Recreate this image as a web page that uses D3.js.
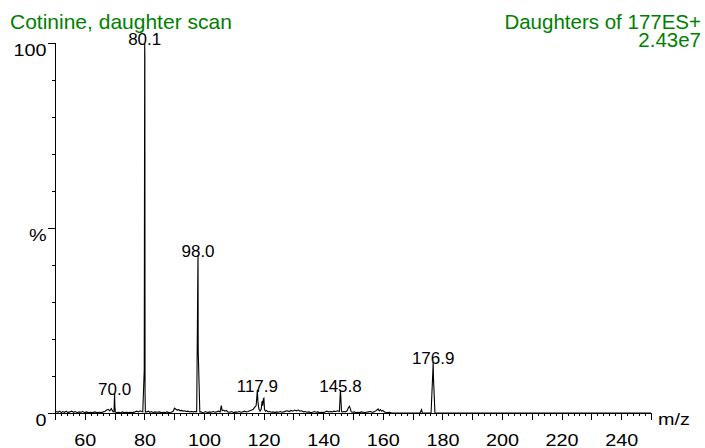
<!DOCTYPE html>
<html><head><meta charset="utf-8">
<script src="https://cdn.jsdelivr.net/npm/d3@7"></script>
<style>html,body{margin:0;padding:0;background:#fff;}svg{display:block;}</style>
</head><body>
<svg id="chart" width="705" height="448"></svg>
<script>
const traceMz = [50.0,50.5,51.0,51.6,52.1,52.6,53.2,53.8,54.3,55.0,55.6,56.2,56.8,57.5,58.0,58.7,59.3,60.0,60.6,61.2,62.0,62.7,63.4,64.0,64.8,65.5,66.2,66.8,67.4,67.9,68.4,68.9,69.4,69.8,69.92,70.0,70.08,70.25,70.8,71.5,72.0,72.6,73.2,74.0,74.7,75.3,76.0,76.8,77.5,78.0,78.6,79.0,79.45,79.95,80.1,80.15,80.22,80.32,80.8,81.3,81.8,82.4,83.0,83.6,84.2,85.0,85.7,86.3,87.0,87.6,88.2,89.0,89.6,90.1,90.6,91.0,91.5,92.0,92.5,93.0,93.5,94.0,94.6,95.2,95.8,96.4,97.0,97.55,97.95,98.0,98.05,98.6,99.0,99.5,100.0,100.6,101.2,101.8,102.4,103.0,103.6,104.2,104.8,105.4,105.8,106.1,106.6,107.0,107.5,108.0,108.7,109.3,110.0,110.6,111.2,111.8,112.4,113.0,113.6,114.2,114.8,115.4,116.0,116.5,117.0,117.5,117.75,117.9,118.1,118.4,118.8,119.2,119.5,119.7,119.9,120.1,120.3,120.6,121.0,121.5,122.0,122.6,123.2,123.8,124.4,125.0,125.6,126.2,126.8,127.4,128.0,128.6,129.2,129.8,130.4,131.0,131.6,132.2,132.8,133.4,134.0,134.6,135.2,135.8,136.4,137.0,137.6,138.2,138.8,139.4,140.0,140.6,141.2,141.8,142.4,143.0,143.6,144.2,144.8,145.45,145.75,145.8,145.9,146.15,146.6,147.0,147.5,148.0,148.5,148.8,149.1,149.4,149.9,150.5,151.0,151.6,152.2,152.8,153.4,154.0,154.6,155.2,155.8,156.4,157.0,157.5,158.0,158.4,158.8,159.2,159.6,160.0,160.5,161.0,161.6,162.2,163.0,172.5,173.0,173.3,176.2,176.75,176.85,176.9,177.0,177.5,250.0];
const tracePct = [0.2,0.4,0.2,0.5,0.1,0.4,0.2,0.5,0.1,0.3,0.5,0.2,0.4,0.1,0.3,0.2,0.4,0.1,0.3,0.1,0.2,0.1,0.3,0.1,0.2,0.1,0.3,0.5,0.8,1.0,0.6,1.2,0.4,0.3,3.5,5.4,2.0,0.3,0.1,0.2,0.0,0.3,0.1,0.2,0.1,0.2,0.1,0.3,0.5,0.3,0.6,0.4,0.3,11.6,100,97,5.5,0.3,0.3,0.5,0.2,0.4,0.1,0.3,0.2,0.3,0.1,0.2,0.1,0.3,0.1,0.2,0.4,1.3,1.0,0.8,0.9,0.6,0.7,0.5,0.6,0.4,0.5,0.3,0.4,0.3,0.4,0.3,40.0,42.7,17.0,0.3,0.3,0.1,0.2,0.4,0.1,0.3,0.2,0.4,0.2,0.3,0.5,0.3,2.0,0.6,0.8,0.5,0.7,0.3,0.2,0.4,0.1,0.3,0.2,0.4,0.2,0.3,0.5,0.3,0.4,0.6,0.8,1.0,1.5,2.0,4.5,6.2,3.0,1.2,0.5,1.0,3.2,2.0,3.8,4.0,1.0,0.5,0.7,0.3,0.4,0.2,0.3,0.1,0.3,0.2,0.4,0.2,0.3,0.5,0.6,0.4,0.7,0.5,0.8,0.6,0.8,0.5,0.6,0.3,0.4,0.2,0.3,0.1,0.2,0.4,0.2,0.3,0.1,0.2,0.1,0.3,0.5,0.3,0.4,0.3,0.5,0.4,0.6,0.4,5.8,6.2,4.5,0.4,0.3,0.4,0.3,0.6,1.5,1.8,1.2,0.3,0.2,0.3,0.1,0.2,0.1,0.3,0.2,0.1,0.2,0.3,0.4,0.2,0.3,0.5,0.8,1.1,0.6,0.9,0.5,0.7,0.3,0.2,0.1,0.2,0.0,0.0,0.9,0.0,0.0,10.5,12.5,13.8,9.5,0.0,0.0];

const peakMz = [70.0, 80.1, 98.0, 117.9, 145.8, 176.9];
const peakPct = [5.4, 100, 42.7, 6.2, 6.2, 13.8];
const peakLabels = ["70.0", "80.1", "98.0", "117.9", "145.8", "176.9"];

const xLabelTicks = [60, 80, 100, 120, 140, 160, 180, 200, 220, 240];
const yLabelTicks = [0, 50, 100];
const yLabelText = ["0", "%", "100"];

const titleLeft = "Cotinine, daughter scan";
const titleRight = "Daughters of 177ES+";
const intensityText = "2.43e7";
const xAxisTitle = "m/z";

const svg = d3.select("#chart");
const green = "#008000";
const font = "'Liberation Sans', Arial, sans-serif";
const stretch = 1.165;

const x = d3.scaleLinear().domain([50, 250]).range([55, 651]);
const y = d3.scaleLinear().domain([0, 100]).range([413, 43]);

svg.append("rect").attr("width", 705).attr("height", 448).attr("fill", "#fff");

// titles
svg.append("text").attr("x", 10).attr("y", 28.5).attr("fill", green)
  .style("font-family", font).style("font-size", "21px").text(titleLeft);
svg.append("text").attr("x", 701).attr("y", 28.5).attr("fill", green).attr("text-anchor", "end")
  .style("font-family", font).style("font-size", "20.5px").text(titleRight);
svg.append("text").attr("x", 701).attr("y", 46.5).attr("fill", green).attr("text-anchor", "end")
  .style("font-family", font).style("font-size", "20.5px").text(intensityText);

// x axis
const xg = svg.append("g").attr("transform", `translate(0,${y(0)})`);
const minorTicks = d3.range(50, 251, 2);
const tenTicks = d3.range(50, 251, 10);
xg.append("g").call(d3.axisBottom(x).tickValues(minorTicks).tickSize(3).tickFormat(""))
  .call(g => g.select(".domain").remove());
xg.append("g").call(d3.axisBottom(x).tickValues(tenTicks).tickSize(7).tickFormat(""))
  .call(g => g.select(".domain").remove());
xg.append("g").call(d3.axisBottom(x).tickValues(xLabelTicks).tickSize(7).tickPadding(13.5).tickFormat(d3.format("d")))
  .call(g => g.select(".domain").attr("d", `M${x(50)},0.5H${x(250)}`))
  .call(g => g.selectAll("text").attr("transform", `scale(${stretch},1)`)
     .style("font-family", font).style("font-size", "17px").attr("fill", "#000"));
xg.selectAll("line,path").attr("stroke", "#000").attr("shape-rendering", "crispEdges");

// y axis
const yg = svg.append("g").attr("transform", `translate(${x(50)},0)`);
yg.append("g").call(d3.axisLeft(y).tickValues(d3.range(0, 101, 10)).tickSize(3).tickFormat(""))
  .call(g => g.select(".domain").remove());
yg.append("g").call(d3.axisLeft(y).tickValues(yLabelTicks).tickSize(7).tickPadding(1.5)
    .tickFormat((d, i) => yLabelText[i]))
  .call(g => g.select(".domain").attr("d", `M0.5,${y(100)}V${y(0)}`))
  .call(g => g.selectAll("text").attr("x", 0).attr("dy", "0.72em")
     .attr("transform", `translate(-8.5,0) scale(${stretch},1)`)
     .style("font-family", font).style("font-size", "17px").attr("fill", "#000"));
yg.selectAll("line,path").attr("stroke", "#000").attr("shape-rendering", "crispEdges");

// axis title
svg.append("text").attr("x", 658).attr("y", 425.5)
  .attr("transform", `translate(658,0) scale(${stretch},1) translate(-658,0)`)
  .style("font-family", font).style("font-size", "17px").attr("fill", "#000").text(xAxisTitle);

// spectrum trace
const pts = traceMz.map((m, i) => [m, tracePct[i]]);
svg.append("path").datum(pts)
  .attr("fill", "none").attr("stroke", "#000").attr("stroke-width", 1.1)
  .attr("d", d3.line().x(d => x(d[0])).y(d => y(d[1])));

// peak labels
svg.append("g").selectAll("text").data(peakMz).join("text")
  .attr("x", d => x(d)).attr("y", (d, i) => y(peakPct[i]) + 2)
  .attr("text-anchor", "middle")
  .style("font-family", font).style("font-size", "17px").attr("fill", "#000")
  .text((d, i) => peakLabels[i]);
</script>
</body></html>
